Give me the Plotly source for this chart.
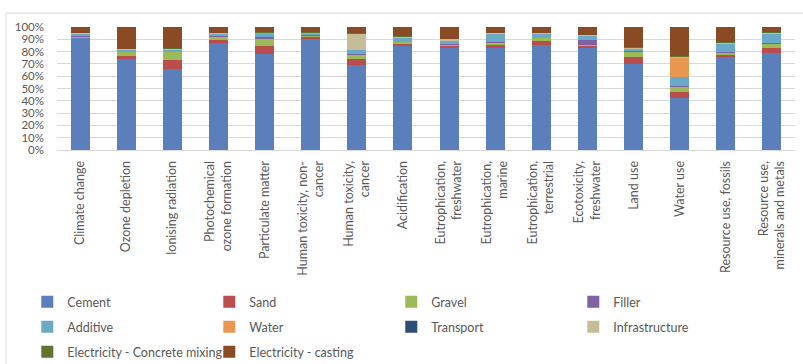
import plotly.graph_objects as go

categories = [
    "Climate change", "Ozone depletion", "Ionising radiation",
    "Photochemical<br>ozone formation", "Particulate matter",
    "Human toxicity, non-<br>cancer", "Human toxicity,<br>cancer", "Acidification",
    "Eutrophication,<br>freshwater", "Eutrophication,<br>marine",
    "Eutrophication,<br>terrestrial", "Ecotoxicity,<br>freshwater", "Land use",
    "Water use", "Resource use, fossils", "Resource use,<br>minerals and metals",
]

cement = [91.6, 74.2, 65.7, 86.7, 78.3, 91.0, 69.3, 85.0, 84.0, 83.2, 86.1, 83.7, 70.6, 42.4, 75.5, 79.1]
sand = [0.5, 2.7, 7.5, 3.0, 6.0, 1.4, 4.9, 1.9, 1.6, 2.4, 2.7, 1.4, 5.7, 4.6, 2.2, 4.3]
gravel = [1.0, 3.0, 6.6, 2.7, 6.2, 0.8, 4.1, 1.4, 0.8, 2.2, 2.7, 0.8, 4.1, 5.0, 1.9, 3.8]
filler = [0.1, 0.1, 0.1, 0.3, 1.0, 0.1, 0.2, 0.1, 0.1, 0.1, 0.2, 4.1, 0.3, 0.1, 0.1, 0.1]
additive = [2.2, 1.6, 1.5, 2.2, 3.5, 1.9, 3.3, 3.5, 2.7, 7.1, 3.3, 3.3, 2.4, 7.0, 7.3, 7.6]
water = [0.1, 0.1, 0.1, 0.1, 0.1, 0.1, 0.1, 0.1, 0.1, 0.1, 0.1, 0.1, 0.1, 16.2, 0.1, 0.1]
transport = [0.1, 0.1, 0.1, 0.1, 0.1, 0.1, 0.1, 0.1, 0.1, 0.1, 0.1, 0.1, 0.1, 0.1, 0.1, 0.1]
infrastructure = [0.3, 0.5, 0.8, 0.3, 0.5, 0.5, 13.6, 0.5, 1.4, 0.5, 0.5, 0.5, 0.8, 0.3, 0.8, 1.1]
elec_mixing = [0.1, 0.1, 0.1, 0.1, 0.1, 0.1, 0.1, 0.1, 0.1, 0.1, 0.1, 0.1, 0.1, 0.6, 0.1, 0.1]
elec_casting = [4.6, 17.7, 17.4, 4.6, 4.1, 4.1, 4.9, 7.6, 9.5, 4.6, 4.6, 6.3, 16.3, 23.7, 12.2, 4.1]

series = [
    ("Cement", cement, "#5B7FBB"),
    ("Sand", sand, "#B94E4C"),
    ("Gravel", gravel, "#9BBB59"),
    ("Filler", filler, "#7E62A1"),
    ("Additive", additive, "#6AAAC8"),
    ("Water", water, "#E8984E"),
    ("Transport", transport, "#2C4D75"),
    ("Infrastructure", infrastructure, "#C4BD97"),
    ("Electricity - Concrete mixing", elec_mixing, "#5F7530"),
    ("Electricity - casting", elec_casting, "#8A4A24"),
]

legend_ids = ["legend", "legend2", "legend3"]

fig = go.Figure()
for i, (name, vals, color) in enumerate(series):
    fig.add_trace(go.Bar(x=list(range(len(categories))), y=vals, name=name,
                         legend=legend_ids[i // 4],
                         marker=dict(color=color, line=dict(width=0))))

W, H = 803, 364
ml, mr, mt, mb = 57, 8, 27, 214
pw, ph = W - ml - mr, H - mt - mb

def px_x(x):
    return (x - ml) / pw

def px_y(y):
    return 1 - (y - mt) / ph

grey = "#595959"

def legend_row(ypx):
    return dict(orientation="h", xref="container", yref="container",
                x=0.034, y=1 - ypx / H, xanchor="left", yanchor="middle",
                entrywidth=137, entrywidthmode="pixels",
                font=dict(family="Lato", size=12.5, color=grey),
                traceorder="normal", bgcolor="rgba(0,0,0,0)")

fig.update_layout(
    width=W, height=H,
    margin=dict(l=ml, r=mr, t=mt, b=mb),
    barmode="stack", barnorm="percent", bargap=0.59,
    plot_bgcolor="white", paper_bgcolor="white",
    font=dict(family="Lato", size=12, color=grey),
    showlegend=True,
    legend=legend_row(302),
    legend2=legend_row(327),
    legend3=legend_row(352),
    xaxis=dict(tickmode="array", tickvals=list(range(len(categories))), ticktext=categories,
               tickangle=-90, showgrid=False, showline=True, linecolor="#d9d9d9",
               ticks="", range=[-0.5, len(categories) - 0.5], ticklabelstandoff=5,
               tickfont=dict(family="Lato", size=12.5, color=grey)),
    yaxis=dict(range=[0, 100], dtick=10, ticksuffix="%", showgrid=True,
               gridcolor="#d9d9d9", gridwidth=1, zeroline=False, ticks="",
               ticklabelstandoff=12,
               tickfont=dict(family="Lato", size=11.5, color=grey)),
    shapes=[dict(type="rect", xref="paper", yref="paper",
                 x0=px_x(6), x1=px_x(812), y0=px_y(372), y1=px_y(13),
                 line=dict(color="#d9d9d9", width=1), layer="below")],
)

fig.write_html("out.html")
